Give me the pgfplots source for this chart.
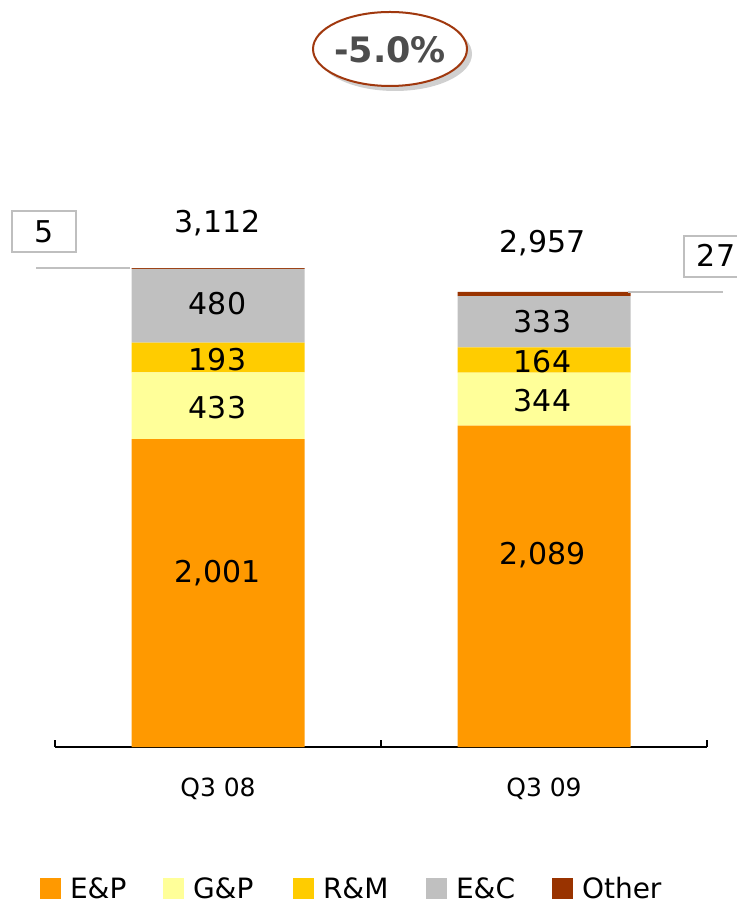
\documentclass[border=0pt]{standalone}
\usepackage{fontspec}
\setmainfont{DejaVu Sans}
\usepackage{pgfplots}
\usepackage{pgfplotstable}
\pgfplotsset{compat=1.18}
\definecolor{cEP}{HTML}{FF9900}
\definecolor{cGP}{HTML}{FFFF99}
\definecolor{cRM}{HTML}{FFCC00}
\definecolor{cEC}{HTML}{C0C0C0}
\definecolor{cOT}{HTML}{993300}
\definecolor{oval}{HTML}{A0380E}
\definecolor{ovtxt}{HTML}{4D4D4D}
\definecolor{boxgray}{HTML}{BFBFBF}
\definecolor{shad}{HTML}{D0D0D0}

\pgfplotstableread{
x ep gp rm ec ot
0 2001 433 193 480 5
1 2089 344 164 333 27
}\datatab

\newcommand\numfont{\fontsize{30}{36}\selectfont}
\pgfplotsset{sq/.style={legend image code/.code={\fill[##1] (0pt,-10pt) rectangle (21pt,11pt);}}}

\begin{document}
\begin{tikzpicture}
\begin{axis}[
  at={(0pt,0pt)}, anchor=south west,
  scale only axis, width=652pt, height=747pt,
  xmin=-0.5, xmax=1.5, ymin=0, ymax=4854,
  ybar stacked, bar width=173pt,
  axis x line=bottom, axis y line=none,
  x axis line style={line width=1.5pt, black, -},
  xtick={0,1}, xticklabels={Q3 08,Q3 09},
  major tick length=0pt,
  tick style={black, line width=1.5pt},
  extra x ticks={-0.5,0.5,1.5},
  extra x tick labels={,,},
  extra x tick style={major tick length=7pt, tick align=inside},
  xticklabel style={font=\fontsize{25}{30}\selectfont, anchor=base, yshift=-49pt},
  clip=false,
  legend columns=5,
  legend style={draw=none, fill=none, inner sep=0pt, outer sep=0pt,
    at={(axis description cs:-0.023,-0.1901)}, anchor=west,
    font=\fontsize{28}{32}\selectfont,
    nodes={inner sep=0pt, outer sep=0pt},
    /tikz/every odd column/.style={column sep=9pt},
    /tikz/every even column/.style={column sep=0pt}},
  legend cell align=left,
]
\addplot[fill=cEP, draw=none, sq] table[x=x,y=ep]{\datatab};
\addplot[fill=cGP, draw=none, sq] table[x=x,y=gp]{\datatab};
\addplot[fill=cRM, draw=none, sq] table[x=x,y=rm]{\datatab};
\addplot[fill=cEC, draw=none, sq] table[x=x,y=ec]{\datatab};
\addplot[fill=cOT, draw=none, sq] table[x=x,y=ot]{\datatab};
\addlegendentry{\makebox[93pt][l]{E\&P}}
\addlegendentry{\makebox[100pt][l]{G\&P}}
\addlegendentry{\makebox[103pt][l]{R\&M}}
\addlegendentry{\makebox[96pt][l]{E\&C}}
\addlegendentry{Other}
\end{axis}
\begin{scope}[x=1pt, y=-1pt, shift={(-55pt,747pt)}]
  % segment labels
  \node[anchor=base, font=\numfont, inner sep=0pt] at (217.5,583) {2,001};
  \node[anchor=base, font=\numfont, inner sep=0pt] at (217.5,419) {433};
  \node[anchor=base, font=\numfont, inner sep=0pt] at (217.5,371) {193};
  \node[anchor=base, font=\numfont, inner sep=0pt] at (217.5,315) {480};
  \node[anchor=base, font=\numfont, inner sep=0pt] at (217.5,233) {3,112};
  \node[anchor=base, font=\numfont, inner sep=0pt] at (542.5,565) {2,089};
  \node[anchor=base, font=\numfont, inner sep=0pt] at (542.5,412) {344};
  \node[anchor=base, font=\numfont, inner sep=0pt] at (542.5,373) {164};
  \node[anchor=base, font=\numfont, inner sep=0pt] at (542.5,333) {333};
  \node[anchor=base, font=\numfont, inner sep=0pt] at (542.5,253) {2,957};
  % callouts
  \draw[boxgray, line width=1.2pt] (12,211) rectangle (76,252);
  \node[anchor=base, font=\numfont, inner sep=0pt] at (44,243) {5};
  \draw[cEC, line width=1.5pt] (36,268) -- (130,268);
  \draw[boxgray, line width=1.2pt] (684,236) rectangle (748,277);
  \node[anchor=base, font=\numfont, inner sep=0pt] at (716,267) {27};
  \draw[cEC, line width=1.5pt] (628,292) -- (723,292);
  % growth oval
  \fill[shad] (395,54) ellipse [x radius=77pt, y radius=37pt];
  \filldraw[fill=white, draw=oval, line width=2pt] (390,49) ellipse [x radius=77pt, y radius=37pt];
  \node[anchor=base, inner sep=0pt, text=ovtxt, font=\fontsize{35}{40}\selectfont\bfseries] at (390,63) {-5.0\%};
  \pgfresetboundingbox
  \path[use as bounding box] (0,0) rectangle (736,907);
\end{scope}
\end{tikzpicture}
\end{document}
